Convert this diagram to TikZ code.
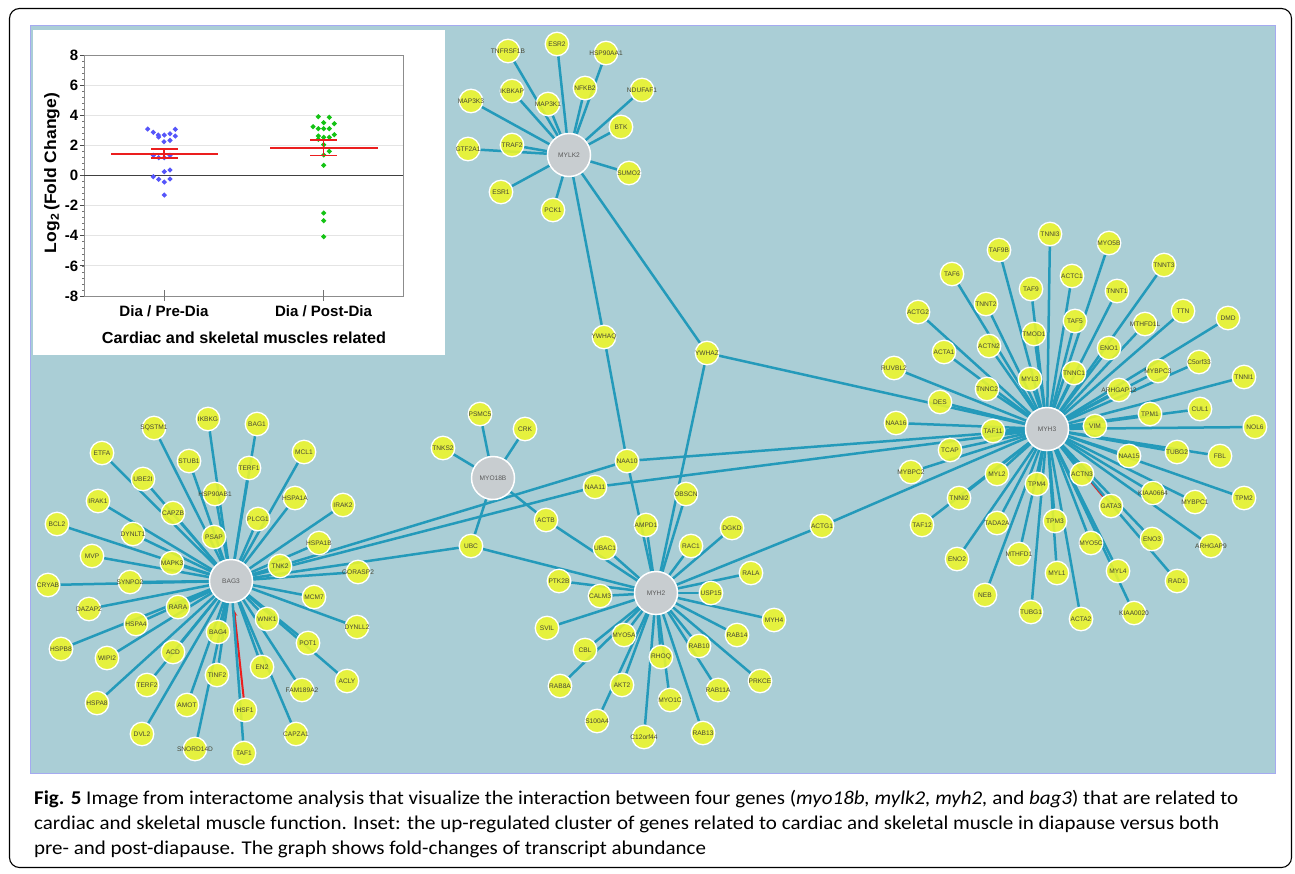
\documentclass[tikz,border=0pt]{standalone}
\usepackage{fontspec}
\setmainfont{Liberation Sans}
\newfontfamily\capfont{Carlito}
\usetikzlibrary{arrows.meta}
\pgfdeclarelayer{bgl}
\pgfdeclarelayer{edgel}
\pgfsetlayers{bgl,edgel,main}
\definecolor{tealbg}{RGB}{170,206,214}
\definecolor{bordc}{RGB}{165,170,240}
\definecolor{edgec}{RGB}{36,154,186}
\definecolor{ylw}{RGB}{238,246,42}
\definecolor{hubc}{RGB}{200,205,208}
\definecolor{gtxt}{RGB}{70,70,50}
\definecolor{redc}{RGB}{235,30,30}
\definecolor{bluep}{RGB}{85,85,250}
\definecolor{greenp}{RGB}{20,195,20}
\definecolor{gridc}{RGB}{228,228,228}
\begin{document}
\begin{tikzpicture}[x=1pt,y=-1pt,
  gene/.style={circle,fill=ylw,fill opacity=0.88,text opacity=1,draw=white,draw opacity=1,line width=1.3pt,minimum size=23.5pt,inner sep=0pt,font=\fontsize{6.6}{7}\selectfont,text=gtxt},
  hub/.style={circle,fill=hubc,draw=white,line width=1.5pt,minimum size=43pt,inner sep=0pt,font=\fontsize{6.6}{7}\selectfont,text=black!65},
  edge/.style={draw=edgec,line width=2.5pt},
  redge/.style={draw=redc,line width=2pt,-{Stealth[length=6pt,width=5pt]},shorten >=7pt},
  ticklab/.style={font=\fontsize{15}{15}\selectfont\bfseries,inner sep=0pt,anchor=east},
  catlab/.style={font=\fontsize{15}{15}\selectfont\bfseries,inner sep=0pt},
  meanl/.style={draw=redc,line width=1.6pt},
  capline/.style={anchor=base west,inner sep=0pt}
]
\useasboundingbox (0,0) rectangle (1295,873);
\begin{pgfonlayer}{bgl}
\fill[tealbg] (30,25) rectangle (1275,773);
\draw[bordc,line width=0.8pt] (30,25) rectangle (1275,773);
\end{pgfonlayer}

% hubs
\foreach \n/\x/\y in {MYLK2/569/155,MYO18B/493/478,MYH2/656/593,MYH3/1047/429,BAG3/231/581}
  \node[hub] (\n) at (\x,\y) {\makebox[0pt]{\n}};

% genes
\foreach \n/\x/\y in {TNFRSF1B/508/51,ESR2/557/44,HSP90AA1/606/53,NFKB2/585/88,NDUFAF1/642/90,IKBKAP/512/91,MAP3K1/548/104,MAP3K3/471/101,BTK/621/127,TRAF2/512/145,GTF2A1/468/149,SUMO2/629/173,ESR1/501/192,PCK1/553/210,
 YWHAQ/604/337,YWHAZ/707/353,NAA10/627/461,NAA11/595/487,OBSCN/686/494,AMPD1/646/525,DGKD/732/528,RAC1/691/546,UBAC1/605/548,ACTG1/822/526,PSMC5/480/414,CRK/525/429,TNKS2/443/448,ACTB/546/520,UBC/471/546,
 PTK2B/559/581,CALM3/600/596,RALA/751/573,USP15/711/593,SVIL/547/628,MYH4/774/620,MYO5A/624/635,CBL/585/650,RAB14/737/635,RAB10/699/646,RHOQ/661/657,PRKCE/760/681,RAB8A/560/686,AKT2/622/685,RAB11A/718/690,MYO1C/670/700,S100A4/597/721,C12orf44/644/737,RAB13/703/733,
 TNNI3/1050/234,MYO5B/1109/243,TAF9B/999/250,TNNT3/1164/265,TAF6/952/274,ACTC1/1072/276,TAF9/1031/289,TNNT1/1117/291,ACTG2/918/312,TNNT2/986/304,TTN/1183/311,DMD/1228/318,TAF5/1075/321,MTHFD1L/1145/324,TMOD1/1034/334,ACTA1/944/352,ACTN2/989/346,ENO1/1109/348,C5orf33/1199/362,RUVBL2/894/368,TNNC1/1074/373,MYBPC3/1158/371,MYL3/1030/379,TNNI1/1244/377,TNNC2/987/389,ARHGAP12/1119/390,DES/940/402,CUL1/1200/409,TPM1/1150/414,
 NAA16/896/423,TAF11/993/431,VIM/1095/426,NOL6/1255/427,TCAP/950/450,NAA15/1129/456,TUBG2/1177/452,FBL/1220/456,MYBPC2/911/472,MYL2/997/474,TPM4/1037/484,ACTN3/1082/474,KIAA0664/1153/493,MYBPC1/1195/502,TPM2/1244/498,TNNI2/959/498,GATA3/1111/506,TAF12/922/525,TADA2A/997/523,TPM3/1055/521,ENO3/1152/539,ARHGAP9/1211/546,ENO2/957/559,MTHFD1/1019/554,MYO5C/1091/543,MYL1/1057/573,MYL4/1118/571,RAD1/1177/581,NEB/985/595,TUBG1/1031/612,ACTA2/1081/619,KIAA0020/1134/613,
 IKBKG/208/419,SQSTM1/154/428,BAG1/257/424,ETFA/102/453,STUB1/189/461,TERF1/249/468,MCL1/304/452,UBE2I/143/479,HSP90AB1/215/494,HSPA1A/295/498,IRAK1/98/501,IRAK2/343/505,CAPZB/173/513,PLCG1/258/519,BCL2/57/524,DYNLT1/133/534,PSAP/214/537,HSPA1B/319/543,MVP/92/556,MAPK3/172/563,TNK2/280/566,GORASP2/358/572,CRYAB/48/585,SYNPO2/130/582,MCM7/314/597,DAZAP2/89/609,RARA/178/607,WNK1/267/619,DYNLL2/357/627,HSPA4/136/624,BAG4/218/632,HSPB8/61/649,WIPI2/107/658,ACD/173/652,POT1/308/643,EN2/262/667,TINF2/217/675,TERF2/147/685,ACLY/347/681,FAM189A2/302/690,HSPA8/97/703,AMOT/187/705,HSF1/245/710,CAPZA1/296/734,DVL2/142/734,SNORD14D/195/749,TAF1/244/753}
  \node[gene] (\n) at (\x,\y) {\makebox[0pt]{\n}};

\begin{pgfonlayer}{edgel}
\draw[redge] (GATA3) -- (MYH3);
\draw[redge] (HSF1) -- (BAG3);
\foreach \t in {TNFRSF1B,ESR2,HSP90AA1,NFKB2,NDUFAF1,IKBKAP,MAP3K1,MAP3K3,BTK,TRAF2,GTF2A1,SUMO2,ESR1,PCK1,YWHAQ,YWHAZ}
  \draw[edge] (MYLK2) -- (\t);
\draw[edge] (YWHAQ) -- (NAA10);
\draw[edge] (NAA10) -- (MYH2);
\draw[edge] (YWHAZ) -- (MYH3);
\draw[edge] (YWHAZ) -- (MYH2);
\draw[edge] (NAA10) -- (BAG3);
\draw[edge] (NAA10) -- (MYH3);
\draw[edge] (NAA11) -- (BAG3);
\draw[edge] (NAA11) -- (MYH3);
\foreach \t in {PSMC5,CRK,TNKS2,ACTB,UBC}
  \draw[edge] (MYO18B) -- (\t);
\draw[edge] (ACTB) -- (MYH2);
\draw[edge] (UBC) -- (BAG3);
\draw[edge] (UBC) -- (MYH2);
\draw[edge] (ACTG1) -- (MYH3);
\draw[edge] (ACTG1) -- (MYH2);
\foreach \t in {OBSCN,AMPD1,DGKD,RAC1,UBAC1,PTK2B,CALM3,RALA,USP15,SVIL,MYH4,MYO5A,CBL,RAB14,RAB10,RHOQ,PRKCE,RAB8A,AKT2,RAB11A,MYO1C,S100A4,C12orf44,RAB13}
  \draw[edge] (MYH2) -- (\t);
\foreach \t in {TNNI3,MYO5B,TAF9B,TNNT3,TAF6,ACTC1,TAF9,TNNT1,ACTG2,TNNT2,TTN,DMD,TAF5,MTHFD1L,TMOD1,ACTA1,ACTN2,ENO1,C5orf33,RUVBL2,TNNC1,MYBPC3,MYL3,TNNI1,TNNC2,ARHGAP12,DES,CUL1,TPM1,NAA16,TAF11,VIM,NOL6,TCAP,NAA15,TUBG2,FBL,MYBPC2,MYL2,TPM4,ACTN3,KIAA0664,MYBPC1,TPM2,TNNI2,TAF12,TADA2A,TPM3,ENO3,ARHGAP9,ENO2,MTHFD1,MYO5C,MYL1,MYL4,RAD1,NEB,TUBG1,ACTA2,KIAA0020}
  \draw[edge] (MYH3) -- (\t);
\foreach \t in {IKBKG,SQSTM1,BAG1,ETFA,STUB1,TERF1,MCL1,UBE2I,HSP90AB1,HSPA1A,IRAK1,IRAK2,CAPZB,PLCG1,BCL2,DYNLT1,PSAP,HSPA1B,MVP,MAPK3,TNK2,GORASP2,CRYAB,SYNPO2,MCM7,DAZAP2,RARA,WNK1,DYNLL2,HSPA4,BAG4,HSPB8,WIPI2,ACD,POT1,EN2,TINF2,TERF2,ACLY,FAM189A2,HSPA8,AMOT,CAPZA1,DVL2,SNORD14D,TAF1}
  \draw[edge] (BAG3) -- (\t);
\end{pgfonlayer}

% inset plot
\fill[white] (33,30) rectangle (445,355);
\foreach \v in {-6,-4,-2,2,4,6}
  \draw[gridc,line width=0.9pt] (84,{175.5-15.06*\v}) -- (403,{175.5-15.06*\v});
\draw[black!45,line width=0.9pt] (84,55) rectangle (403,296);
\draw[black!75,line width=1.3pt] (84,175.5) -- (403,175.5);
\foreach \i in {0,...,40}
  \draw[black!55,line width=0.6pt] (84,{55+\i*6.025}) -- (81.5,{55+\i*6.025});
\foreach \v [count=\k] in {-8,-6,-4,-2,0,2,4,6,8} {
  \draw[black!70,line width=0.8pt] (84,{175.5-15.06*\v}) -- (79.5,{175.5-15.06*\v});
  \node[ticklab] (yt\k) at (78.5,{175.5-15.06*\v}) {\v};
}
\draw[black!55,line width=0.8pt] (164,290) -- (164,301);
\draw[black!55,line width=0.8pt] (323.5,290) -- (323.5,301);
\foreach \x/\y in {147.7/129,153.3/132.3,158.3/135,158.7/137,164.3/135,170/133.7,175.3/129.3,175.3/136,164/141.7,170/140.3,153.3/155.3,158.7/157.7,164.3/157.7,170/155.3,164.3/171.7,170/170,153.3/176.7,158.7/179.3,164.3/182,170/179,164.3/195}
  \fill[bluep] (\x,\y) +(0,-2.7) -- +(2.7,0) -- +(0,2.7) -- +(-2.7,0) -- cycle;
\foreach \x/\y in {318.3/116.7,329.3/117.3,323.7/122.7,334.3/123.7,313/126.7,318.3/128.7,323.7/128.7,329.3/128.7,334.3/134.7,318.3/136,323.7/137.3,329.3/137.3,318.3/139.3,323.7/144.7,329.3/151.3,323.7/155,323.7/165.3,323.7/213,323.7/220.7,323.7/236.7}
  \fill[greenp] (\x,\y) +(0,-2.7) -- +(2.7,0) -- +(0,2.7) -- +(-2.7,0) -- cycle;
\draw[meanl] (111,153.7) -- (218,153.7);
\draw[meanl,line width=1.1pt] (164,149) -- (164,158);
\draw[meanl,line width=1.1pt] (151,149) -- (178,149);
\draw[meanl,line width=1.1pt] (151,158) -- (178,158);
\draw[meanl] (270,147.7) -- (378,147.7);
\draw[meanl,line width=1.1pt] (323.5,140) -- (323.5,155.3);
\draw[meanl,line width=1.1pt] (310,140) -- (337,140);
\draw[meanl,line width=1.1pt] (310,155.3) -- (337,155.3);
\node[catlab] (cat1) at (164,311.5) {\resizebox{89pt}{\height}{Dia / Pre-Dia}};
\node[catlab] (cat2) at (323.5,311.5) {\resizebox{97pt}{\height}{Dia / Post-Dia}};
\node[catlab,font=\fontsize{16}{16}\selectfont\bfseries] (xtitle) at (244,337.5) {\resizebox{284pt}{\height}{Cardiac and skeletal muscles related}};
\node[catlab,font=\fontsize{16.5}{16.5}\selectfont\bfseries,rotate=90] (ytitle) at (52,173) {\resizebox{160pt}{\height}{Log\textsubscript{2}\,(Fold Change)}};

% frame and caption
\draw[line width=1.1pt,rounded corners=10pt] (9.5,8.5) rectangle (1291.5,867.5);
\node[capline] (cap1) at (34,804) {\resizebox{1204pt}{\height}{\capfont\fontsize{19.5}{21}\selectfont\textbf{Fig. 5} Image from interactome analysis that visualize the interaction between four genes (\textit{myo18b, mylk2, myh2,} and \textit{bag3}) that are related to}};
\node[capline] (cap2) at (34,829) {\resizebox{1185pt}{\height}{\capfont\fontsize{19.5}{21}\selectfont cardiac and skeletal muscle function. Inset: the up-regulated cluster of genes related to cardiac and skeletal muscle in diapause versus both}};
\node[capline] (cap3) at (34,854) {\resizebox{672pt}{\height}{\capfont\fontsize{19.5}{21}\selectfont pre- and post-diapause. The graph shows fold-changes of transcript abundance}};
\end{tikzpicture}
\end{document}
